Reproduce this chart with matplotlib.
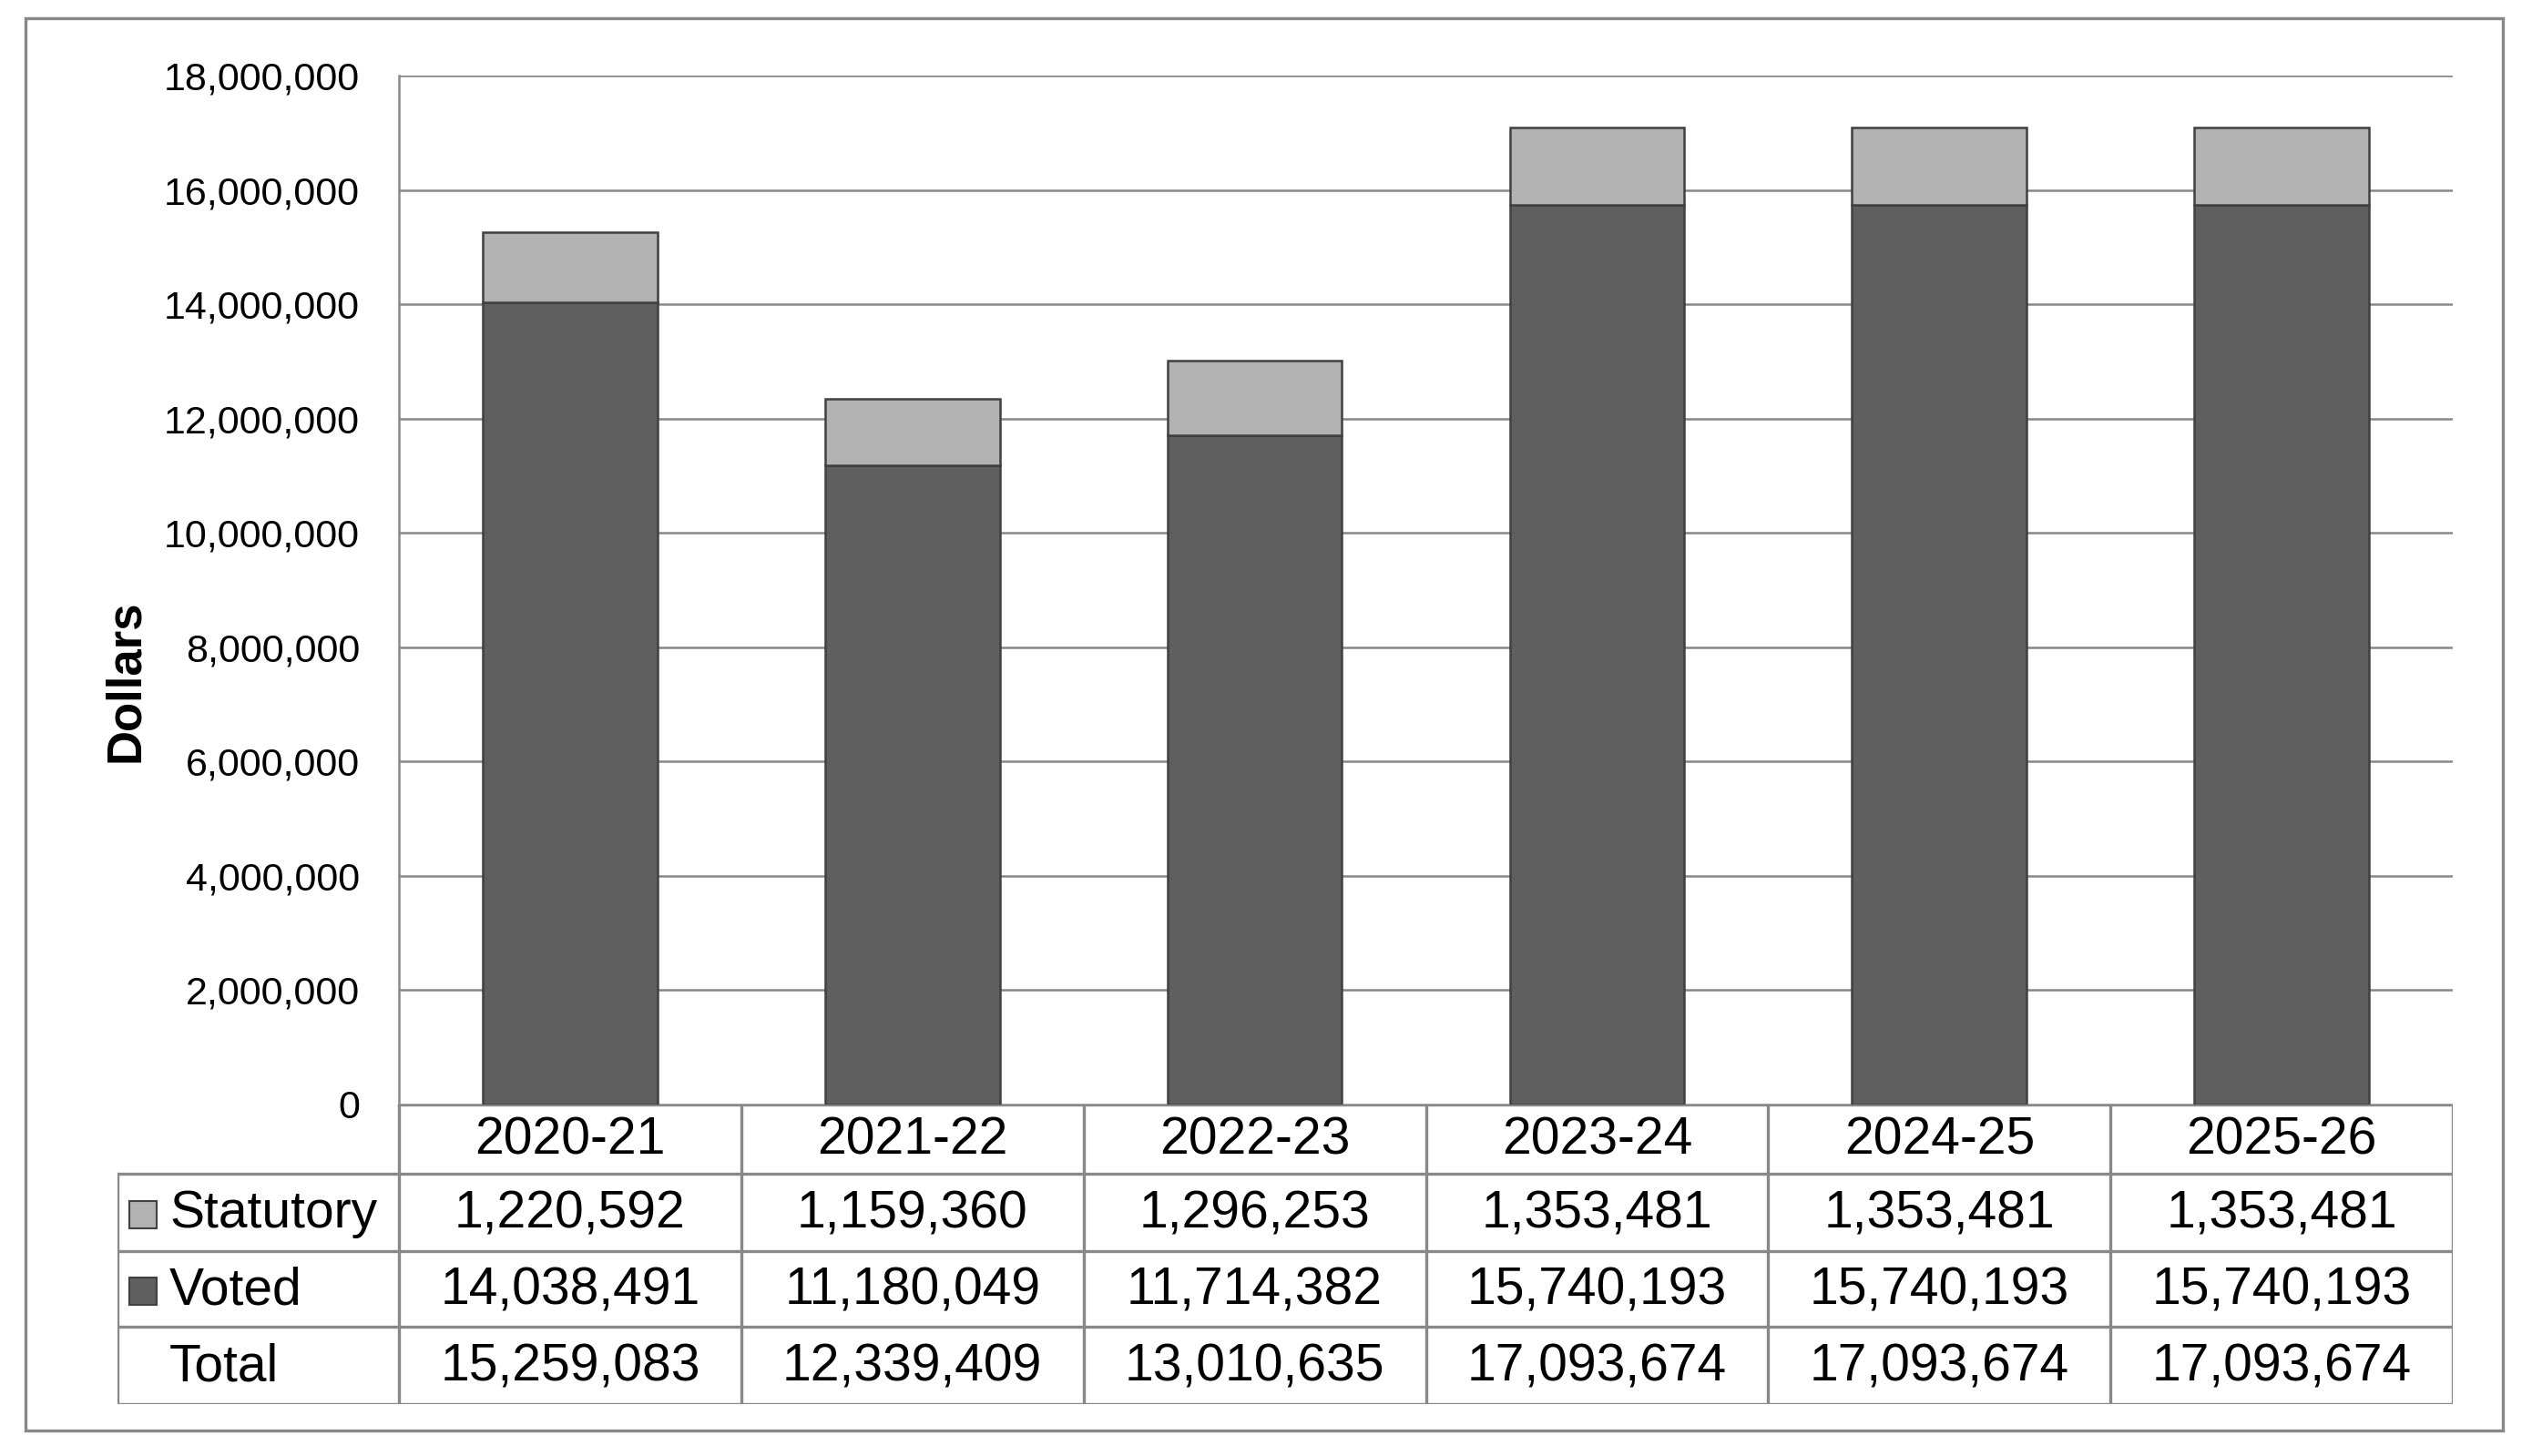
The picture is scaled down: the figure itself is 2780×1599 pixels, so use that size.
import numpy as np
import matplotlib
matplotlib.use("Agg")
import matplotlib.pyplot as plt
from matplotlib.patches import Rectangle
from matplotlib.lines import Line2D

plt.rcParams['font.family'] = ['Liberation Sans', 'DejaVu Sans']

years = ["2020-21", "2021-22", "2022-23", "2023-24", "2024-25", "2025-26"]
statutory = [1220592, 1159360, 1296253, 1353481, 1353481, 1353481]
voted = [14038491, 11180049, 11714382, 15740193, 15740193, 15740193]
total = [15259083, 12339409, 13010635, 17093674, 17093674, 17093674]
yticks = np.arange(0, 18000001, 2000000)

W, H = 2780, 1599
fig = plt.figure(figsize=(W / 100, H / 100), dpi=100)

# pixel helpers (figure coords)
def fx(px):
    return px / W

def fy(py):
    return 1 - py / H

grid_c = "#888888"
edge_c = "#404040"
voted_c = "#5f5f5f"
stat_c = "#b2b2b2"
lw_frame = 2.4

# outer frame
fig.add_artist(Rectangle((fx(28), fy(1571)), fx(2748) - fx(28), fy(20) - fy(1571),
                         transform=fig.transFigure, fill=False, edgecolor=grid_c, lw=lw_frame))

plot_l, plot_r, plot_t, plot_b = 438, 2693, 83, 1213
ax = fig.add_axes([fx(plot_l), fy(plot_b), fx(plot_r) - fx(plot_l), fy(plot_t) - fy(plot_b)])
x = np.arange(len(years))
ax.bar(x, voted, width=0.51, color=voted_c, edgecolor=edge_c, linewidth=1.8, zorder=3)
ax.bar(x, statutory, bottom=voted, width=0.51, color=stat_c, edgecolor=edge_c, linewidth=1.8, zorder=3)
ax.set_xlim(-0.5, len(years) - 0.5)
ax.set_ylim(0, 18000000)
ax.set_yticks(yticks)
ax.set_yticklabels([f"{v:,}" for v in yticks], fontsize=31)
ax.tick_params(axis='y', length=0, pad=31)
ax.set_xticks([])
ax.yaxis.grid(True, color=grid_c, lw=1.8, zorder=0)
for s in ["top", "right", "bottom"]:
    ax.spines[s].set_visible(False)
ax.spines["left"].set_color(grid_c)
ax.spines["left"].set_linewidth(1.8)
fig.text(fx(138), fy(748), "Dollars", rotation=90, fontsize=38, fontweight='bold',
         ha='center', va='center')

# data table below the chart
col_w = (plot_r - plot_l) / len(years)
tab_l = 129
row_edges = [1213, 1289, 1374, 1457, 1542]
tax = fig.add_axes([fx(tab_l), fy(row_edges[-1]), fx(plot_r) - fx(tab_l), fy(row_edges[0]) - fy(row_edges[-1])])
x0 = -0.5 - (plot_l - tab_l) / col_w
tax.set_xlim(x0, len(years) - 0.5)
tspan = row_edges[-1] - row_edges[0]
tax.set_ylim(tspan, 0)
tax.axis('off')
ry = [r - row_edges[0] for r in row_edges]

def tline(xs, ys):
    tax.add_line(Line2D(xs, ys, color=grid_c, lw=lw_frame, solid_capstyle='projecting'))

# horizontal lines
tline([-0.5, len(years) - 0.5], [ry[0], ry[0]])
for r in ry[1:]:
    tline([x0, len(years) - 0.5], [r, r])
# vertical lines
for i in range(len(years) + 1):
    tline([i - 0.5, i - 0.5], [ry[0], ry[-1]])
tline([x0, x0], [ry[1], ry[-1]])

fs = 41
for i, yr in enumerate(years):
    tax.text(i, (ry[0] + ry[1]) / 2 + 2, yr, fontsize=fs, ha='center', va='center')
rows = [("Statutory", statutory, stat_c), ("Voted", voted, voted_c), ("Total", total, None)]
for j, (name, vals, c) in enumerate(rows):
    yc = (ry[j + 1] + ry[j + 2]) / 2 + 2
    for i, v in enumerate(vals):
        tax.text(i, yc, f"{v:,}", fontsize=fs, ha='center', va='center')
    if c is not None:
        sq = 30 / col_w
        tax.add_patch(Rectangle((x0 + (142 - tab_l) / col_w, yc - 15), sq, 30,
                                facecolor=c, edgecolor=edge_c, lw=1.5))
    tax.text(x0 + (186 - tab_l) / col_w, yc, name, fontsize=fs, ha='left', va='center')

fig.savefig("out.png", dpi=100)
